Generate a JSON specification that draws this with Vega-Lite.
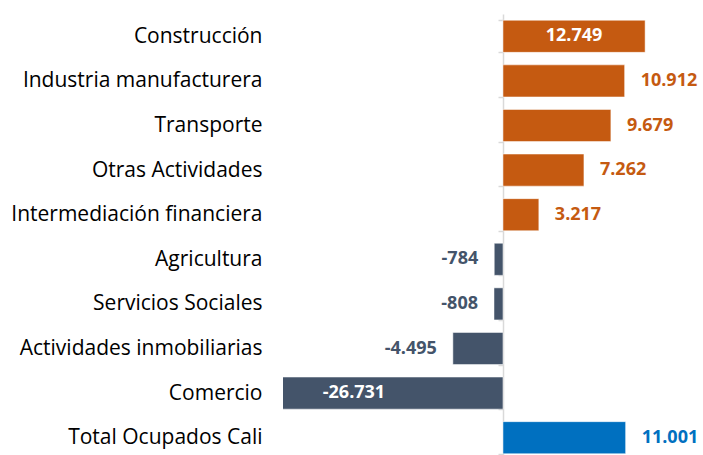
{
  "$schema": "https://vega.github.io/schema/vega-lite/v6.json",
  "autosize": {"type": "none"},
  "width": 420,
  "height": 446,
  "padding": {"left": 283, "top": 14, "right": 0, "bottom": 0},
  "background": "white",
  "config": {
    "view": {"stroke": null},
    "locale": {"number": {"decimal": ",", "thousands": ".", "grouping": [3], "currency": ["$", ""], "minus": "-"}},
    "font": "Open Sans"
  },
  "data": {
    "values": [
      {"sector": "Construcción", "valor": 12749, "grupo": "pos"},
      {"sector": "Industria manufacturera", "valor": 10912, "grupo": "pos"},
      {"sector": "Transporte", "valor": 9679, "grupo": "pos"},
      {"sector": "Otras Actividades", "valor": 7262, "grupo": "pos"},
      {"sector": "Intermediación financiera", "valor": 3217, "grupo": "pos"},
      {"sector": "Agricultura", "valor": -784, "grupo": "neg"},
      {"sector": "Servicios Sociales", "valor": -808, "grupo": "neg"},
      {"sector": "Actividades inmobiliarias", "valor": -4495, "grupo": "neg"},
      {"sector": "Comercio", "valor": -26731, "grupo": "neg"},
      {"sector": "Total Ocupados Cali", "valor": 11001, "grupo": "total"}
    ]
  },
  "transform": [
    {"calculate": "abs(datum.valor) > 12000", "as": "dentro"},
    {"calculate": "datum.dentro ? datum.valor / 2 : datum.valor", "as": "pos"}
  ],
  "encoding": {
    "y": {
      "field": "sector", "type": "nominal", "sort": null,
      "scale": {"paddingInner": 0.28, "paddingOuter": 0.14},
      "axis": {
        "title": null, "offset": -220, "orient": "left",
        "domainColor": "#D9D9D9", "domainWidth": 1.5,
        "tickColor": "#D9D9D9", "tickSize": 5, "tickWidth": 1.5, "tickBand": "extent",
        "labelPadding": 236, "labelLimit": 400, "labelFontSize": 21, "labelColor": "#000000",
        "labelFont": "Open Sans", "labelFontWeight": "normal"
      }
    }
  },
  "layer": [
    {
      "mark": {"type": "bar", "clip": true, "stroke": "white", "strokeWidth": 0.5},
      "encoding": {
        "x": {"field": "valor", "type": "quantitative", "scale": {"domain": [-19730, 17940], "nice": false, "zero": false}, "axis": null},
        "color": {"field": "grupo", "type": "nominal", "scale": {"domain": ["pos", "neg", "total"], "range": ["#C55A11", "#44546A", "#0070C0"]}, "legend": null}
      }
    },
    {
      "transform": [{"filter": "datum.dentro"}],
      "mark": {"type": "text", "align": "center", "baseline": "middle", "fontSize": 18, "fontWeight": "bold", "color": "white"},
      "encoding": {
        "x": {"field": "pos", "type": "quantitative"},
        "text": {"field": "valor", "type": "quantitative", "format": ",d"}
      }
    },
    {
      "transform": [{"filter": "!datum.dentro && datum.valor > 0"}],
      "mark": {"type": "text", "align": "left", "baseline": "middle", "dx": 16, "fontSize": 18, "fontWeight": "bold"},
      "encoding": {
        "x": {"field": "pos", "type": "quantitative"},
        "text": {"field": "valor", "type": "quantitative", "format": ",d"},
        "color": {"field": "grupo", "type": "nominal", "scale": {"domain": ["pos", "neg", "total"], "range": ["#C55A11", "#44546A", "#0070C0"]}, "legend": null}
      }
    },
    {
      "transform": [{"filter": "!datum.dentro && datum.valor < 0"}],
      "mark": {"type": "text", "align": "right", "baseline": "middle", "dx": -16, "fontSize": 18, "fontWeight": "bold"},
      "encoding": {
        "x": {"field": "pos", "type": "quantitative"},
        "text": {"field": "valor", "type": "quantitative", "format": ",d"},
        "color": {"field": "grupo", "type": "nominal", "scale": {"domain": ["pos", "neg", "total"], "range": ["#C55A11", "#44546A", "#0070C0"]}, "legend": null}
      }
    }
  ]
}
